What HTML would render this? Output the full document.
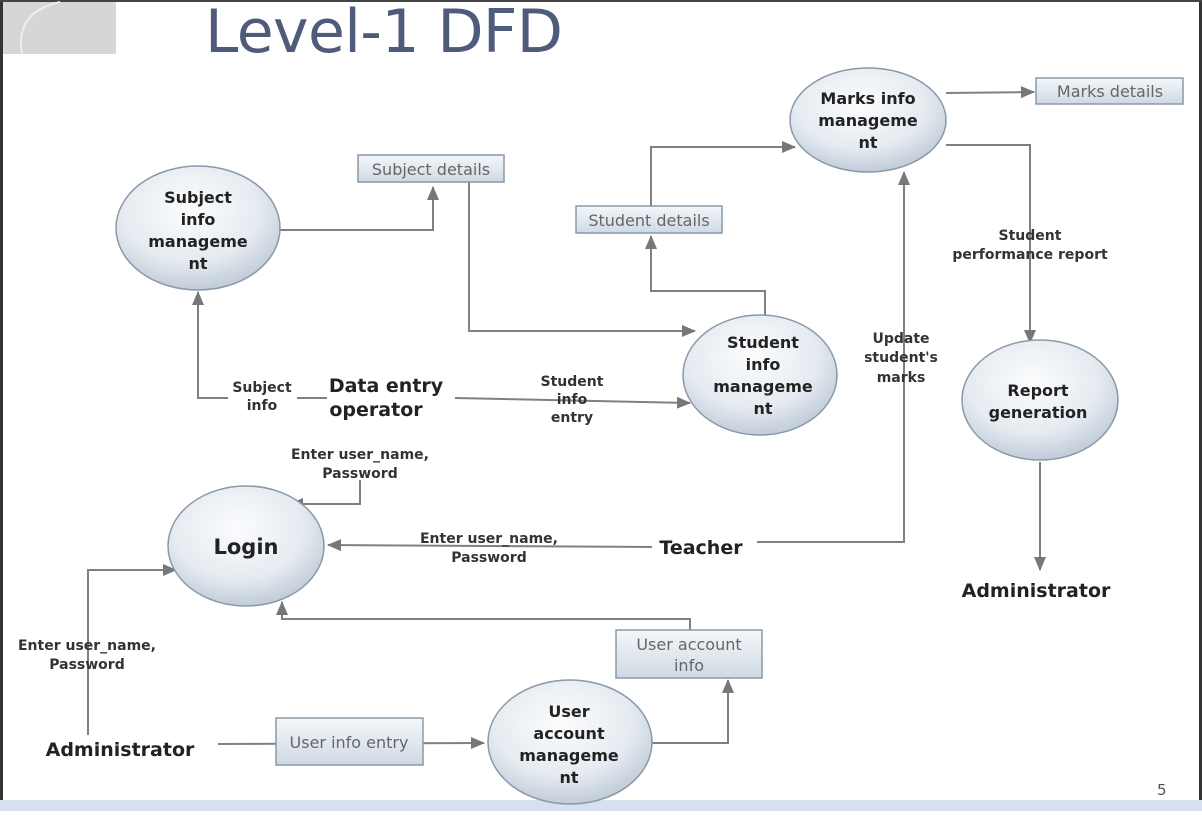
<!DOCTYPE html>
<html><head><style>
body{margin:0;width:1202px;height:811px;overflow:hidden;background:#fff;font-family:"DejaVu Sans","Liberation Sans",sans-serif;}
</style></head><body>
<svg width="1202" height="811" viewBox="0 0 1202 811" xmlns="http://www.w3.org/2000/svg">
<defs>
<radialGradient id="eg" cx="45%" cy="35%" r="70%">
<stop offset="0" stop-color="#fbfcfd"/><stop offset="0.6" stop-color="#e6ebf1"/><stop offset="1" stop-color="#b9c6d4"/>
</radialGradient>
<linearGradient id="bg" x1="0" y1="0" x2="0" y2="1">
<stop offset="0" stop-color="#f4f7fa"/><stop offset="1" stop-color="#cfd9e3"/>
</linearGradient>
<marker id="a" markerWidth="14" markerHeight="14" refX="13" refY="7" orient="auto" markerUnits="userSpaceOnUse">
<path d="M0,1 L14,7 L0,13 z" fill="#777"/></marker>
</defs>
<rect x="0" y="0" width="1202" height="811" fill="#fff"/>
<rect x="0" y="0" width="3" height="800" fill="#333"/>
<rect x="1199" y="0" width="3" height="800" fill="#333"/>
<rect x="0" y="0" width="1202" height="2" fill="#444"/>
<rect x="3" y="2" width="113" height="52" fill="#d6d6d6"/>
<path d="M22,54 C18,30 25,10 60,2" stroke="#eee" stroke-width="2" fill="none"/>
<text x="205" y="52" font-family="'DejaVu Sans',sans-serif" font-size="60" fill="#4f5b7a" textLength="358">Level-1 DFD</text>
<rect x="0" y="800" width="1202" height="11" fill="#d5e1ef"/>
<text x="1157" y="795" font-size="15" fill="#555">5</text>

<g stroke="#808080" stroke-width="2" fill="none">
<line x1="946" y1="93" x2="1034" y2="92" marker-end="url(#a)"/>
<polyline points="280,230 433,230 433,187" marker-end="url(#a)"/>
<polyline points="651,206 651,147 795,147" marker-end="url(#a)"/>
<polyline points="765,315 765,291 651,291 651,236" marker-end="url(#a)"/>
<polyline points="469,182 469,331 695,331" marker-end="url(#a)"/>
<polyline points="946,145 1030,145 1030,343" marker-end="url(#a)"/>
<polyline points="228,398 198,398 198,292" marker-end="url(#a)"/>
<line x1="297" y1="398" x2="327" y2="398"/>
<polyline points="455,398 690,403" marker-end="url(#a)"/>
<polyline points="757,542 904,542 904,172" marker-end="url(#a)"/>
<polyline points="652,547 328,545" marker-end="url(#a)"/>
<polyline points="360,480 360,504 290,504" marker-end="url(#a)"/>
<polyline points="88,735 88,570 176,570" marker-end="url(#a)"/>
<polyline points="690,630 690,619 282,619 282,602" marker-end="url(#a)"/>
<polyline points="218,744 484,743" marker-end="url(#a)"/>
<polyline points="652,743 728,743 728,680" marker-end="url(#a)"/>
<line x1="1040" y1="462" x2="1040" y2="570" marker-end="url(#a)"/>
</g>

<g stroke="#8a99a8" stroke-width="1.5" fill="url(#eg)">
<ellipse cx="868" cy="120" rx="78" ry="52"/>
<ellipse cx="198" cy="228" rx="82" ry="62"/>
<ellipse cx="760" cy="375" rx="77" ry="60"/>
<ellipse cx="1040" cy="400" rx="78" ry="60"/>
<ellipse cx="246" cy="546" rx="78" ry="60"/>
<ellipse cx="570" cy="742" rx="82" ry="62"/>
</g>
<g stroke="#8a99a8" stroke-width="1.5" fill="url(#bg)">
<rect x="1036" y="78" width="147" height="26"/>
<rect x="358" y="155" width="146" height="27"/>
<rect x="576" y="206" width="146" height="27"/>
<rect x="616" y="630" width="146" height="48"/>
<rect x="276" y="718" width="147" height="47"/>
</g>
<g font-size="16" fill="#666" text-anchor="middle">
<text x="1110" y="97">Marks details</text>
<text x="431" y="175">Subject details</text>
<text x="649" y="226">Student details</text>
<text x="689" y="650">User account</text>
<text x="689" y="671">info</text>
<text x="349" y="748">User info entry</text>
</g>
<g font-size="16" font-weight="bold" fill="#222" text-anchor="middle">
<text x="868" y="104">Marks info</text><text x="868" y="126">manageme</text><text x="868" y="148">nt</text>
<text x="198" y="203">Subject</text><text x="198" y="225">info</text><text x="198" y="247">manageme</text><text x="198" y="269">nt</text>
<text x="763" y="348">Student</text><text x="763" y="370">info</text><text x="763" y="392">manageme</text><text x="763" y="414">nt</text>
<text x="1038" y="396">Report</text><text x="1038" y="418">generation</text>
<text x="569" y="717">User</text><text x="569" y="739">account</text><text x="569" y="761">manageme</text><text x="569" y="783">nt</text>
<text x="246" y="554" font-size="21">Login</text>
</g>
<g font-size="19" font-weight="bold" fill="#222" text-anchor="middle">
<text x="386" y="392">Data entry</text>
<text x="376" y="416">operator</text>
<text x="701" y="554">Teacher</text>
<text x="1036" y="597">Administrator</text>
<text x="120" y="756">Administrator</text>
</g>
<g font-size="14" font-weight="bold" fill="#333" text-anchor="middle">
<text x="262" y="392">Subject</text><text x="262" y="410">info</text>
<text x="572" y="386">Student</text><text x="572" y="404">info</text><text x="572" y="422">entry</text>
<text x="360" y="459">Enter user_name,</text><text x="360" y="478">Password</text>
<text x="489" y="543">Enter user_name,</text><text x="489" y="562">Password</text>
<text x="87" y="650">Enter user_name,</text><text x="87" y="669">Password</text>
<text x="1030" y="240">Student</text><text x="1030" y="259">performance report</text>
<text x="901" y="343">Update</text><text x="901" y="362">student's</text><text x="901" y="382">marks</text>
</g>
</svg>
</body></html>
